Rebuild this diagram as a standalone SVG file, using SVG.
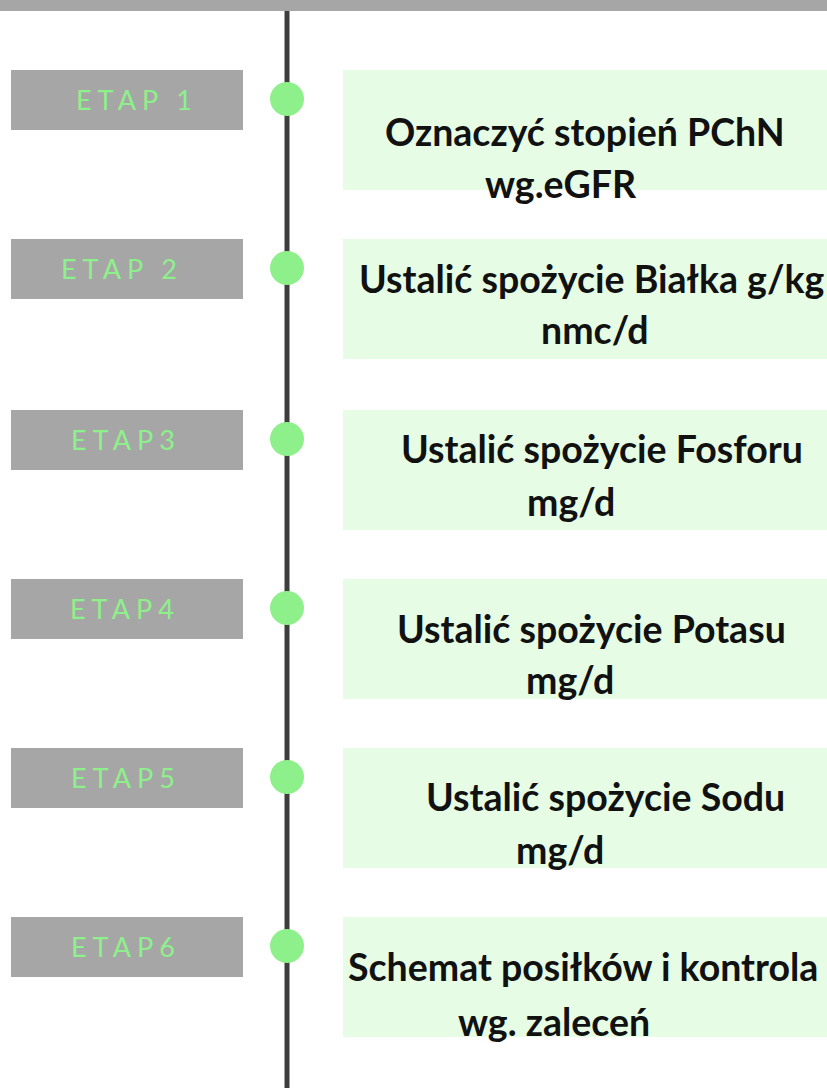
<svg xmlns="http://www.w3.org/2000/svg" width="827" height="1088" viewBox="0 0 827 1088">
<style>
.tag{fill:#a6a6a6}
.tagt{font-family:Lato,"Liberation Sans",sans-serif;font-size:27px;fill:#8ef08a;letter-spacing:6px}
.box{fill:#e6fce4}
.bt{font-family:Lato,"Liberation Sans",sans-serif;font-weight:bold;font-size:37.5px;fill:#111}
.dot{fill:#8ef08a}
</style>
<rect width="827" height="1088" fill="#fff"/>
<rect x="0" y="0" width="827" height="11" fill="#a6a6a6"/>
<g id="connectors">
<line x1="287" y1="11" x2="287" y2="1088" stroke="#3d3d3d" stroke-width="5"/>
</g>
<g id="etap1"><rect class="tag" x="11" y="70" width="232" height="60"/><text class="tagt" x="76" y="110">ETAP 1</text><circle class="dot" cx="287" cy="99" r="17"/><rect class="box" x="343" y="70" width="484" height="120"/><text class="bt" x="385" y="146">Oznaczyć stopień PChN</text><text class="bt" x="485" y="198">wg.eGFR</text></g>
<g id="etap2"><rect class="tag" x="11" y="239" width="232" height="60"/><text class="tagt" x="61" y="279">ETAP 2</text><circle class="dot" cx="287" cy="268" r="17"/><rect class="box" x="343" y="239" width="484" height="120"/><text class="bt" x="359" y="293">Ustalić spożycie Białka g/kg</text><text class="bt" x="541" y="344">nmc/d</text></g>
<g id="etap3"><rect class="tag" x="11" y="410" width="232" height="60"/><text class="tagt" x="71" y="450">ETAP3</text><circle class="dot" cx="287" cy="439" r="17"/><rect class="box" x="343" y="410" width="484" height="120"/><text class="bt" x="401" y="463">Ustalić spożycie Fosforu</text><text class="bt" x="527" y="516">mg/d</text></g>
<g id="etap4"><rect class="tag" x="11" y="579" width="232" height="60"/><text class="tagt" x="70" y="619">ETAP4</text><circle class="dot" cx="287" cy="608" r="17"/><rect class="box" x="343" y="579" width="484" height="120"/><text class="bt" x="397" y="643">Ustalić spożycie Potasu</text><text class="bt" x="526" y="694">mg/d</text></g>
<g id="etap5"><rect class="tag" x="11" y="748" width="232" height="60"/><text class="tagt" x="71" y="788">ETAP5</text><circle class="dot" cx="287" cy="777" r="17"/><rect class="box" x="343" y="748" width="484" height="120"/><text class="bt" x="426" y="811">Ustalić spożycie Sodu</text><text class="bt" x="516" y="864">mg/d</text></g>
<g id="etap6"><rect class="tag" x="11" y="917" width="232" height="60"/><text class="tagt" x="71" y="957">ETAP6</text><circle class="dot" cx="287" cy="946" r="17"/><rect class="box" x="343" y="917" width="484" height="120"/><text class="bt" x="348" y="981">Schemat posiłków i kontrola</text><text class="bt" x="458" y="1036">wg. zaleceń</text></g>
</svg>
